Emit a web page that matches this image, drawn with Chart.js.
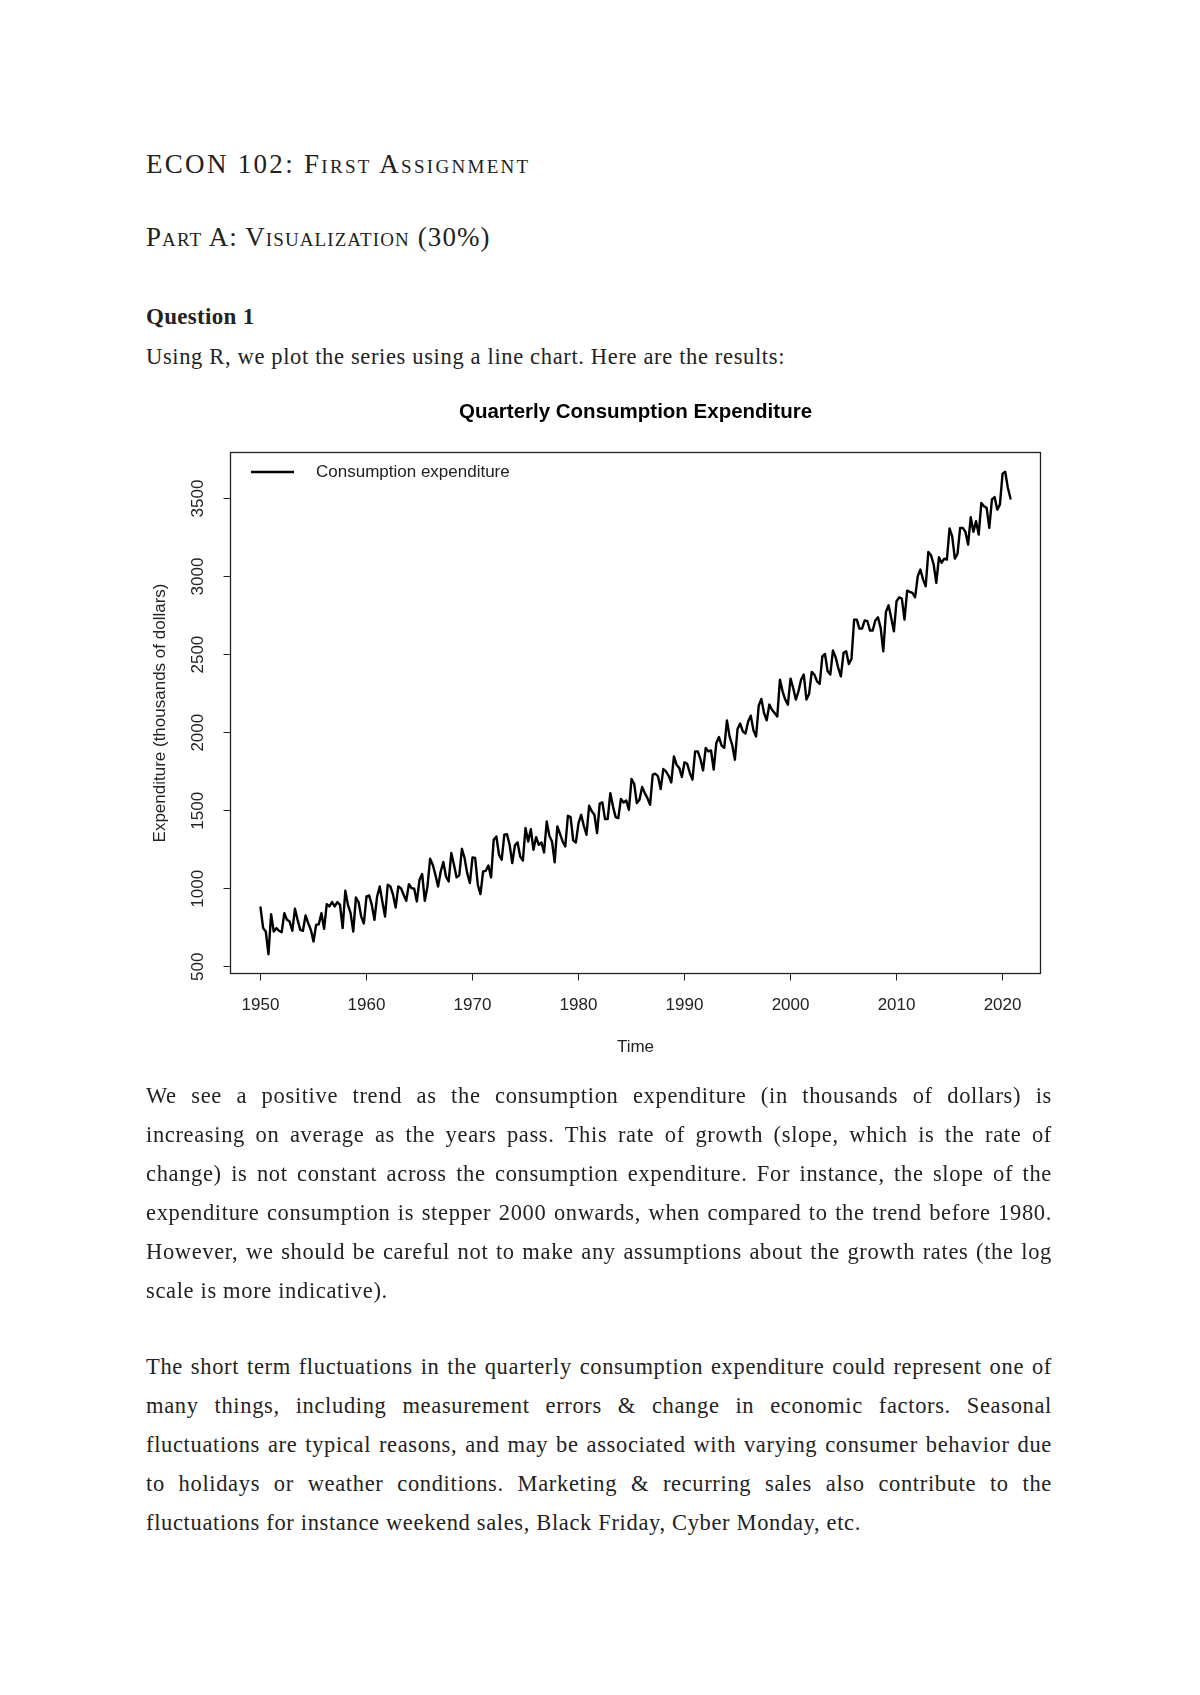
<!DOCTYPE html>
<html>
<head>
<meta charset="utf-8">
<title>ECON 102: First Assignment</title>
<script src="https://cdn.jsdelivr.net/npm/chart.js@4.4.0/dist/chart.umd.min.js"></script>
<style>
  html, body { margin: 0; padding: 0; background: #fff; }
  body {
    width: 1200px; height: 1695px; position: relative; overflow: hidden;
    font-family: 'Liberation Serif', 'DejaVu Serif', serif; color: #222;
  }
  .head { position: absolute; left: 146px; font-variant: small-caps; font-size: 27px; line-height: 30px; letter-spacing: 1.4px; }
  .question { position: absolute; left: 146px; font-weight: bold; font-size: 23px; line-height: 30px; letter-spacing: 0.3px; }
  .para { position: absolute; left: 146px; width: 906px; font-size: 22.5px; line-height: 39px; letter-spacing: 0.65px; }
  .para .j { text-align: justify; text-align-last: justify; }
  #chartBox { position: absolute; left: 0; top: 360px; width: 1200px; height: 720px; }
</style>
</head>
<body>

<div class="head" style="top:149px; letter-spacing:2.3px">ECON 102: First Assignment</div>
<div class="head" style="top:222px; letter-spacing:1.1px">Part A: Visualization (30%)</div>
<div class="question" style="top:302px">Question 1</div>
<div class="para" style="top:336.5px">Using R, we plot the series using a line chart. Here are the results:</div>

<div id="chartBox"><canvas id="consumptionChart" width="1200" height="720"></canvas></div>

<div class="para" style="top:1075.5px">
  <div class="j">We see a positive trend as the consumption expenditure (in thousands of dollars) is</div>
  <div class="j">increasing on average as the years pass. This rate of growth (slope, which is the rate of</div>
  <div class="j">change) is not constant across the consumption expenditure. For instance, the slope of the</div>
  <div class="j">expenditure consumption is stepper 2000 onwards, when compared to the trend before 1980.</div>
  <div class="j">However, we should be careful not to make any assumptions about the growth rates (the log</div>
  <div>scale is more indicative).</div>
</div>

<div class="para" style="top:1346.5px">
  <div class="j">The short term fluctuations in the quarterly consumption expenditure could represent one of</div>
  <div class="j">many things, including measurement errors &amp; change in economic factors. Seasonal</div>
  <div class="j">fluctuations are typical reasons, and may be associated with varying consumer behavior due</div>
  <div class="j">to holidays or weather conditions. Marketing &amp; recurring sales also contribute to the</div>
  <div>fluctuations for instance weekend sales, Black Friday, Cyber Monday, etc.</div>
</div>

<script>
// Quarterly series, first value is 1950 Q1
const startYear = 1950;
const quartersPerYear = 4;

// 1950 Q1 - 1974 Q1
const expenditure1950s = [
  880, 748, 726, 581, 838, 726, 748, 731, 722, 844,
  801, 790, 731, 872, 801, 737, 731, 829, 780, 737,
  662, 769, 773, 844, 744, 902, 887, 915, 887, 915,
  897, 748, 987, 897, 844, 726, 944, 915, 822, 778,
  951, 957, 897, 801, 951, 1015, 915, 822, 1026, 1015,
  962, 880, 1015, 1004, 962, 923, 1030, 1004, 1000, 919,
  1058, 1094, 923, 1015, 1192, 1154, 1090, 1015, 1111, 1171,
  1079, 1047, 1229, 1154, 1073, 1086, 1256, 1197, 1100, 1037,
  1201, 1197, 1026, 966, 1111, 1115, 1149, 1073, 1314, 1335,
  1218, 1186, 1346, 1350, 1282, 1165, 1278
];
// 1974 Q2 - 1998 Q1
const expenditure1970s = [
  1297, 1207, 1181, 1389, 1303, 1382, 1250, 1331, 1282, 1297,
  1233, 1431, 1340, 1303, 1169, 1400, 1353, 1303, 1271, 1468,
  1459, 1310, 1297, 1421, 1474, 1404, 1346, 1532, 1496, 1474,
  1357, 1545, 1553, 1447, 1447, 1613, 1528, 1459, 1453, 1575,
  1553, 1566, 1506, 1703, 1673, 1549, 1571, 1652, 1613, 1581,
  1538, 1731, 1737, 1720, 1639, 1767, 1752, 1724, 1681, 1848,
  1795, 1774, 1716, 1810, 1801, 1742, 1699, 1880, 1880, 1831,
  1758, 1902, 1880, 1886, 1763, 1934, 1972, 1917, 1902, 2079,
  1976, 1921, 1827, 2024, 2058, 2008, 1994, 2072, 2109, 2016,
  1976, 2173, 2216, 2126, 2079, 2180
];
// 1998 Q2 - 2020 Q4
const expenditure2000s = [
  2147, 2126, 2104, 2340, 2265, 2212, 2179, 2346, 2286, 2212,
  2265, 2340, 2372, 2212, 2248, 2389, 2372, 2329, 2312, 2489,
  2504, 2393, 2372, 2526, 2484, 2415, 2361, 2511, 2521, 2440,
  2474, 2724, 2724, 2667, 2667, 2719, 2714, 2654, 2654, 2719,
  2739, 2671, 2521, 2774, 2816, 2735, 2649, 2842, 2867, 2859,
  2724, 2910, 2902, 2895, 2867, 3002, 3045, 2982, 2938, 3158,
  3137, 3077, 2960, 3124, 3088, 3115, 3109, 3308, 3258, 3115,
  3145, 3312, 3312, 3286, 3205, 3380, 3286, 3355, 3269, 3472,
  3450, 3440, 3312, 3494, 3509, 3429, 3461, 3658, 3671, 3569,
  3500
];

const xTickYears = [1950, 1960, 1970, 1980, 1990, 2000, 2010, 2020];
const yTickValues = [500, 1000, 1500, 2000, 2500, 3000, 3500];

const chartTitle = 'Quarterly Consumption Expenditure';
const seriesLabel = 'Consumption expenditure';
const xAxisTitle = 'Time';
const yAxisTitle = 'Expenditure (thousands of dollars)';

const expenditure = [...expenditure1950s, ...expenditure1970s, ...expenditure2000s];
const times = expenditure.map((_, i) => startYear + i / quartersPerYear);

// R extends each axis by 4% of the data range
function paddedRange(values) {
  const lo = Math.min(...values);
  const hi = Math.max(...values);
  const pad = (hi - lo) * 0.04;
  return [lo - pad, hi + pad];
}
const [xMin, xMax] = paddedRange(times);
const [yMin, yMax] = paddedRange(expenditure);

const ink = '#222';
const sans = 'Liberation Sans, Arial, sans-serif';
const axisFont = { family: sans, size: 17 };

// Full box around the plot region, like R's box()
const plotFrame = {
  id: 'plotFrame',
  afterDatasetsDraw(chart) {
    const { ctx, chartArea: a } = chart;
    ctx.save();
    ctx.strokeStyle = ink;
    ctx.lineWidth = 1.3;
    ctx.strokeRect(a.left, a.top, a.right - a.left, a.bottom - a.top);
    ctx.restore();
  }
};

// Main title centred over the plot region
const mainTitle = {
  id: 'mainTitle',
  afterDraw(chart) {
    const { ctx, chartArea: a } = chart;
    ctx.save();
    ctx.fillStyle = '#000';
    ctx.font = 'bold 20.5px ' + sans;
    ctx.textAlign = 'center';
    ctx.textBaseline = 'middle';
    ctx.fillText(chartTitle, (a.left + a.right) / 2, a.top - 40.5);
    ctx.restore();
  }
};

// Legend without a border, top-left inside the plot
const insetLegend = {
  id: 'insetLegend',
  afterDraw(chart) {
    const { ctx, chartArea: a } = chart;
    const ds = chart.data.datasets[0];
    const y = a.top + 19.5;
    ctx.save();
    ctx.strokeStyle = ds.borderColor;
    ctx.lineWidth = ds.borderWidth;
    ctx.beginPath();
    ctx.moveTo(a.left + 20.5, y);
    ctx.lineTo(a.left + 63.5, y);
    ctx.stroke();
    ctx.fillStyle = ink;
    ctx.font = '17px ' + sans;
    ctx.textBaseline = 'middle';
    ctx.fillText(ds.label, a.left + 85.5, y);
    ctx.restore();
  }
};

const ctx = document.getElementById('consumptionChart').getContext('2d');
new Chart(ctx, {
  type: 'line',
  data: {
    datasets: [{
      label: seriesLabel,
      data: times.map((t, i) => ({ x: t, y: expenditure[i] })),
      borderColor: '#000',
      borderWidth: 2.4,
      borderJoinStyle: 'round',
      borderCapStyle: 'round',
      pointRadius: 0,
      tension: 0,
      fill: false
    }]
  },
  options: {
    responsive: false,
    animation: false,
    devicePixelRatio: 1,
    layout: { padding: { left: 150, right: 159.5, top: 92.5, bottom: 0 } },
    plugins: {
      legend: { display: false },
      title: { display: false },
      tooltip: { enabled: false }
    },
    scales: {
      x: {
        type: 'linear',
        min: xMin,
        max: xMax,
        afterBuildTicks: s => { s.ticks = xTickYears.map(v => ({ value: v })); },
        afterFit: s => { s.height = 106.5; },
        grid: { drawOnChartArea: false, drawTicks: true, tickLength: 7, color: ink },
        border: { display: false },
        ticks: {
          callback: v => String(v),
          autoSkip: false, minRotation: 0, maxRotation: 0,
          padding: 15, color: ink, font: axisFont
        },
        title: { display: true, text: xAxisTitle, color: ink, font: axisFont, padding: { top: 0, bottom: 22.8 } }
      },
      y: {
        type: 'linear',
        min: yMin,
        max: yMax,
        afterBuildTicks: s => { s.ticks = yTickValues.map(v => ({ value: v })); },
        afterFit: s => { s.width = 80.5; },
        grid: { drawOnChartArea: false, drawTicks: true, tickLength: 7, color: ink },
        border: { display: false },
        ticks: {
          callback: v => String(v),
          autoSkip: false, minRotation: 90, maxRotation: 90, crossAlign: 'center',
          padding: 6.6, color: ink, font: axisFont
        },
        title: { display: true, text: yAxisTitle, color: ink, font: axisFont, padding: 0 }
      }
    }
  },
  plugins: [plotFrame, mainTitle, insetLegend]
});
</script>
</body>
</html>
